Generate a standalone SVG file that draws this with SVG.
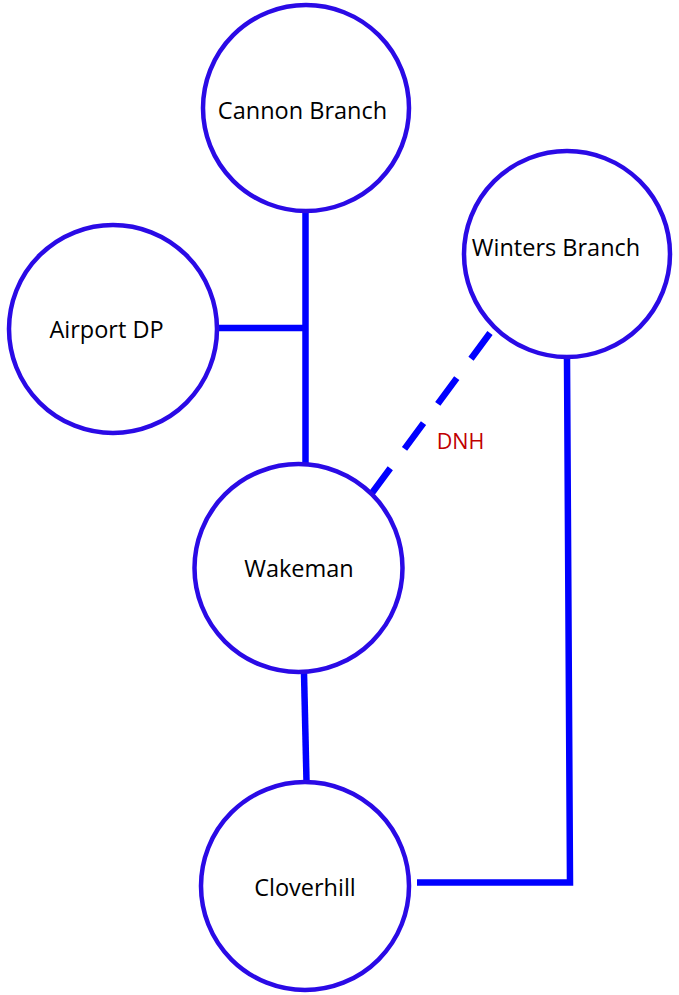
<svg xmlns="http://www.w3.org/2000/svg" width="679" height="995" viewBox="0 0 679 995">
<style>
.node circle{fill:#ffffff;stroke:#2A0AE6;stroke-width:4.5}
.node text{font-family:"Open Sans","Liberation Sans",sans-serif;font-size:23.5px;fill:#000000;text-anchor:middle}
.edge{fill:none;stroke:#0000FF;stroke-width:6.5;stroke-linecap:butt;stroke-linejoin:miter}
.lbl{font-family:"Open Sans","Liberation Sans",sans-serif;font-size:21.5px;fill:#C00000;text-anchor:middle}
</style>
<rect width="679" height="995" fill="#ffffff"/>
<g id="connectors">
<line class="edge" x1="305.5" y1="213" x2="305.5" y2="463"/>
<line class="edge" x1="217" y1="328" x2="305.5" y2="328"/>
<line class="edge" x1="304" y1="673" x2="306.5" y2="781"/>
<polyline class="edge" points="567,359 570,882.5 417,882.5"/>
<line class="edge" x1="490" y1="333" x2="372" y2="493" stroke-dasharray="32 24"/>
<text class="lbl" x="460.5" y="449">DNH</text>
</g>
<g id="cannon-branch" class="node">
<circle cx="306" cy="108" r="103"/>
<text x="302.5" y="119">Cannon Branch</text>
</g>
<g id="winters-branch" class="node">
<circle cx="567" cy="254" r="103"/>
<text x="556" y="256">Winters Branch</text>
</g>
<g id="airport-dp" class="node">
<circle cx="113" cy="329" r="104"/>
<text x="106.5" y="338">Airport DP</text>
</g>
<g id="wakeman" class="node">
<circle cx="298.5" cy="568" r="104"/>
<text x="299" y="577">Wakeman</text>
</g>
<g id="cloverhill" class="node">
<circle cx="305" cy="886" r="104"/>
<text x="305" y="896">Cloverhill</text>
</g>
</svg>
